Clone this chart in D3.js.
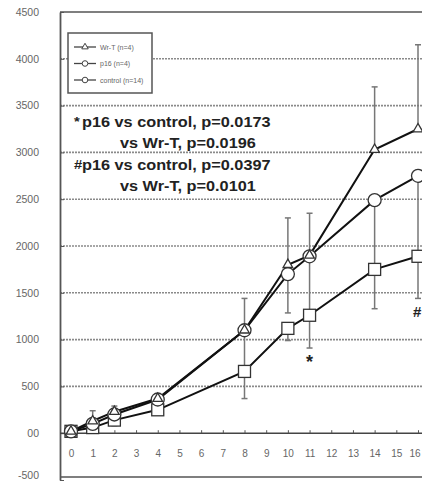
<!DOCTYPE html>
<html><head><meta charset="utf-8">
<script src="https://cdn.jsdelivr.net/npm/d3@7"></script>
<style>body{margin:0;background:#fff}svg{display:block}</style>
</head><body>
<svg id="c" width="422" height="481"></svg>
<script>
const days = [0, 1, 2, 4, 8, 10, 11, 14, 16];
const xTicks = [0,1,2,3,4,5,6,7,8,9,10,11,12,13,14,15,16];
const yTicks = [-500,0,500,1000,1500,2000,2500,3000,3500,4000,4500];
const wrT = [20, 130, 230, 370, 1100, 1800, 1900, 3030, 3250];
const wrTErrUp = [0, 110, 60, 50, 340, 500, 450, 670, 900];
const p16 = [20, 100, 200, 360, 1100, 1700, 1890, 2490, 2750];
const p16ErrDown = [0, 60, 80, 100, 420, 415, 620, 700, 800];
const control = [20, 60, 140, 250, 660, 1120, 1260, 1750, 1890];
const controlErrDown = [0, 50, 60, 20, 290, 130, 350, 420, 450];
const legendLabels = ["Wr-T (n=4)", "p16 (n=4)", "control (n=14)"];
const notes = [["*", "p16 vs control, p=0.0173", "vs Wr-T, p=0.0196"],
               ["#", "p16 vs control, p=0.0397", "vs Wr-T, p=0.0101"]];

const FONT = "Liberation Sans, Arial, sans-serif";
const svg = d3.select("#c");
const x = d3.scaleLinear().domain([0, 16]).range([71, 418]);
const y = d3.scaleLinear().domain([-500, 4500]).range([480, 12]);
const left = 60, right = 440;

// gridlines
svg.append("g").selectAll("line").data(yTicks.filter(v => v > 0 && v < 4500)).join("line")
  .attr("x1", left).attr("x2", right).attr("y1", d => y(d)).attr("y2", d => y(d))
  .attr("stroke", "#8a8a8a").attr("stroke-width", 1.6).attr("stroke-dasharray", "2,1");

// frame
svg.append("line").attr("x1", left).attr("x2", right).attr("y1", y(4500)).attr("y2", y(4500)).attr("stroke", "#555").attr("stroke-width", 1.6);
svg.append("line").attr("x1", left).attr("x2", right).attr("y1", y(-500)-3).attr("y2", y(-500)-3).attr("stroke", "#555").attr("stroke-width", 1.6);

// y axis
const yAx = svg.append("g").attr("transform", `translate(${left},0)`)
  .call(d3.axisLeft(y).tickValues(yTicks).tickSizeInner(-4).tickSizeOuter(0).tickPadding(21)
    .tickFormat(d => d === 0 ? "00" : String(d)));
yAx.select(".domain").attr("stroke", "#555").attr("stroke-width", 1.8);
yAx.selectAll(".tick line").attr("stroke", "#555");
yAx.selectAll("text").attr("font-family", FONT).attr("font-size", 10.5).attr("fill", "#666");
yAx.selectAll(".tick").filter(d => d === -500).select("text").attr("dy", "-0.15em");

// x axis at zero
const xAx = svg.append("g").attr("transform", `translate(0,${y(0)})`)
  .call(d3.axisBottom(x).tickValues(xTicks).tickSizeInner(-3).tickSizeOuter(0).tickPadding(17).tickFormat(d3.format("d")));
xAx.select(".domain").attr("stroke", "#444").attr("stroke-width", 1.6).attr("d", `M${left},0H${right}`);
xAx.selectAll(".tick line").attr("stroke", "#555");
xAx.selectAll("text").attr("font-family", FONT).attr("font-size", 10).attr("fill", "#666");
xAx.selectAll(".tick").filter(d => d === 16).select("text").attr("text-anchor", "end").attr("dx", "0.2em");

// error bars
function errBars(vals, errs, dir) {
  const g = svg.append("g").attr("stroke", "#777").attr("stroke-width", 1.5);
  days.forEach((d, i) => {
    if (!errs[i]) return;
    const y0 = y(vals[i]), y1 = y(vals[i] + dir * errs[i]);
    g.append("line").attr("x1", x(d)).attr("x2", x(d)).attr("y1", y0).attr("y2", y1);
    g.append("line").attr("x1", x(d) - 3).attr("x2", x(d) + 3).attr("y1", y1).attr("y2", y1);
  });
}
errBars(wrT, wrTErrUp, 1);
errBars(p16, p16ErrDown, -1);
errBars(control, controlErrDown, -1);

const line = d3.line().x((d, i) => x(days[i])).y(d => y(d));
[control, p16, wrT].forEach(s => {
  svg.append("path").datum(s).attr("d", line).attr("fill", "none").attr("stroke", "#111").attr("stroke-width", 2);
});

// markers
svg.append("g").selectAll("rect").data(control).join("rect")
  .attr("x", (d, i) => x(days[i]) - 6).attr("y", d => y(d) - 6).attr("width", 12).attr("height", 12)
  .attr("fill", "#fff").attr("stroke", "#333").attr("stroke-width", 1.3);
svg.append("g").selectAll("circle").data(p16).join("circle")
  .attr("cx", (d, i) => x(days[i])).attr("cy", d => y(d)).attr("r", 6.5)
  .attr("fill", "#fff").attr("stroke", "#333").attr("stroke-width", 1.3);
svg.append("g").selectAll("path").data(wrT).join("path")
  .attr("d", d3.symbol(d3.symbolTriangle, 40))
  .attr("transform", (d, i) => `translate(${x(days[i])},${y(d)})`)
  .attr("fill", "#fff").attr("stroke", "#333").attr("stroke-width", 1.3);

// significance marks
svg.append("text").attr("x", x(11)).attr("y", y(control[6] - controlErrDown[6]) + 20).attr("text-anchor", "middle")
  .attr("font-family", FONT).attr("font-weight", "bold").attr("font-size", 18).attr("fill", "#222").text("*");
svg.append("text").attr("x", x(16) - 5).attr("y", y(control[8] - controlErrDown[8]) + 19)
  .attr("font-family", FONT).attr("font-weight", "bold").attr("font-size", 15).attr("fill", "#222").text("#");

// legend
const lg = svg.append("g");
lg.append("rect").attr("x", 68).attr("y", 33).attr("width", 84).attr("height", 60)
  .attr("fill", "#fff").attr("stroke", "#555").attr("stroke-width", 1.5);
legendLabels.forEach((t, i) => {
  const yy = 47 + i * 16.5;
  lg.append("line").attr("x1", 74).attr("x2", 96).attr("y1", yy).attr("y2", yy).attr("stroke", "#444").attr("stroke-width", 1.3);
  if (i === 0) {
    lg.append("path").attr("d", d3.symbol(d3.symbolTriangle, 18)).attr("transform", `translate(85,${yy})`)
      .attr("fill", "#fff").attr("stroke", "#444");
  } else {
    lg.append("circle").attr("cx", 85).attr("cy", yy).attr("r", 2.8).attr("fill", "#fff").attr("stroke", "#444");
  }
  lg.append("text").attr("x", 100).attr("y", yy + 2.5).attr("font-family", FONT)
    .attr("font-size", 7).attr("fill", "#666").text(t);
});

// notes (horizontally stretched bold text)
function stretched(xp, yp, size, txt) {
  svg.append("text").attr("transform", `translate(${xp},${yp}) scale(1.18,1)`)
    .attr("font-family", FONT).attr("font-weight", "bold").attr("font-size", size).attr("fill", "#222").text(txt);
}
notes.forEach((n, i) => {
  const y0 = 127 + i * 43;
  stretched(74, y0 - 1, 12.5, n[0]);
  stretched(82, y0, 13.8, n[1]);
  stretched(120, y0 + 21, 13.8, n[2]);
});
</script>
</body></html>
